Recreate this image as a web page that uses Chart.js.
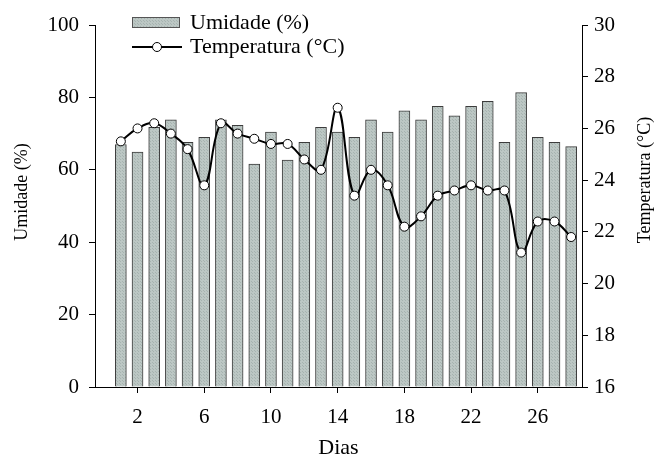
<!DOCTYPE html>
<html>
<head>
<meta charset="utf-8">
<script src="https://cdn.jsdelivr.net/npm/chart.js@4/dist/chart.umd.min.js"></script>
<style>
  html, body { margin: 0; padding: 0; background: #fff; }
  #wrap { width: 654px; height: 461px; }
</style>
</head>
<body>
<div id="wrap"><canvas id="c" width="654" height="461"></canvas></div>
<script>
// Daily readings
const dias = [1, 2, 3, 4, 5, 6, 7, 8, 9, 10, 11, 12, 13, 14,
              15, 16, 17, 18, 19, 20, 21, 22, 23, 24, 25, 26, 27, 28];
const umidade = [67.0, 64.9, 71.7, 73.8, 67.6, 69.0, 73.8, 72.3, 61.6, 70.4,
                 62.7, 67.6, 71.7, 70.4, 69.0, 73.8, 70.4, 76.3, 73.8, 77.5,
                 74.9, 77.5, 78.9, 67.6, 81.3, 69.0, 67.6, 66.4];
const temperatura = [25.5, 26.0, 26.2, 25.8, 25.2, 23.8, 26.2, 25.8, 25.6, 25.4,
                     25.4, 24.8, 24.4, 26.8, 23.4, 24.4, 23.8, 22.2, 22.6, 23.4,
                     23.6, 23.8, 23.6, 23.6, 21.2, 22.4, 22.4, 21.8];
const diaTicks = [2, 6, 10, 14, 18, 22, 26];
const umidadeTicks = [0, 20, 40, 60, 80, 100];
const tempTicks = [16, 18, 20, 22, 24, 26, 28, 30];

const FONT = '"Liberation Serif", "Times New Roman", serif';

// Fine dotted fill for the humidity bars
function dotPattern() {
  const t = document.createElement('canvas');
  t.width = 3; t.height = 3;
  const g = t.getContext('2d');
  g.fillStyle = '#bcc7c4';
  g.fillRect(0, 0, 3, 3);
  g.fillStyle = '#a6b3b0';
  g.fillRect(0, 0, 1, 1);
  g.fillRect(2, 2, 1, 1);
  return g.createPattern(t, 'repeat');
}
const barFill = dotPattern();

// Legend drawn inside the upper-left corner of the plot
const innerLegend = {
  id: 'innerLegend',
  afterDraw(chart) {
    const ctx = chart.ctx;
    const ds = chart.data.datasets;
    ctx.save();
    ctx.font = '22px ' + FONT;
    ctx.textBaseline = 'middle';
    ctx.textAlign = 'left';
    // bar swatch
    ctx.fillStyle = barFill;
    ctx.fillRect(132, 17, 48, 11);
    ctx.strokeStyle = '#555';
    ctx.lineWidth = 1;
    ctx.strokeRect(132.5, 17.5, 47, 10);
    ctx.fillStyle = '#000';
    ctx.fillText(ds[0].label, 190, 23);
    // line swatch
    ctx.beginPath();
    ctx.moveTo(132, 47);
    ctx.lineTo(182, 47);
    ctx.lineWidth = 2;
    ctx.strokeStyle = '#000';
    ctx.stroke();
    ctx.beginPath();
    ctx.arc(157, 47, 4.5, 0, Math.PI * 2);
    ctx.fillStyle = '#fff';
    ctx.fill();
    ctx.lineWidth = 1;
    ctx.stroke();
    ctx.fillStyle = '#000';
    ctx.fillText(ds[1].label, 190, 47);
    ctx.restore();
  }
};

// Vertical axis titles, both reading bottom to top
const sideTitles = {
  id: 'sideTitles',
  afterDraw(chart) {
    const ctx = chart.ctx;
    const put = (text, x, y) => {
      ctx.save();
      ctx.translate(x, y);
      ctx.rotate(-Math.PI / 2);
      ctx.font = '18px ' + FONT;
      ctx.fillStyle = '#000';
      ctx.textAlign = 'center';
      ctx.textBaseline = 'middle';
      ctx.fillText(text, 0, 0);
      ctx.restore();
    };
    put('Umidade (%)', 22, 192);
    put('Temperatura (°C)', 645, 180);
  }
};

const axisCommon = {
  border: { display: true, color: '#000', width: 1 },
  grid: { drawOnChartArea: false, drawTicks: true, tickLength: 6, color: '#000', tickWidth: 1, offset: false },
};

new Chart(document.getElementById('c'), {
  data: {
    datasets: [
      {
        type: 'bar',
        label: 'Umidade (%)',
        data: dias.map((d, i) => ({ x: d, y: umidade[i] })),
        yAxisID: 'y',
        backgroundColor: barFill,
        borderColor: '#3c3c3c',
        borderWidth: 1,
        barThickness: 11,
        order: 2
      },
      {
        type: 'line',
        label: 'Temperatura (°C)',
        data: dias.map((d, i) => ({ x: d, y: temperatura[i] })),
        yAxisID: 'y1',
        borderColor: '#000',
        borderWidth: 2,
        tension: 0.4,
        pointRadius: 4.5,
        pointBackgroundColor: '#fff',
        pointBorderColor: '#000',
        pointBorderWidth: 1,
        order: 1
      }
    ]
  },
  options: {
    responsive: false,
    animation: false,
    layout: { padding: { top: 25, left: 0, right: 0, bottom: 0 } },
    plugins: { legend: { display: false }, tooltip: { enabled: false } },
    scales: {
      x: {
        type: 'linear',
        offset: false,
        min: -0.55,
        max: 28.65,
        ...axisCommon,
        afterBuildTicks(s) { s.ticks = diaTicks.map(v => ({ value: v })); },
        afterFit(s) { s.height = 74; },
        ticks: { font: { family: FONT, size: 21 }, color: '#000', padding: 12, maxRotation: 0 },
        title: { display: true, text: 'Dias', font: { family: FONT, size: 22 }, color: '#000', padding: { top: 8, bottom: 0 } }
      },
      y: {
        type: 'linear',
        position: 'left',
        min: 0,
        max: 100,
        ...axisCommon,
        afterBuildTicks(s) { s.ticks = umidadeTicks.map(v => ({ value: v })); },
        afterFit(s) { s.width = 95; },
        ticks: { font: { family: FONT, size: 21 }, color: '#000', padding: 10 }
      },
      y1: {
        type: 'linear',
        position: 'right',
        min: 16,
        max: 30,
        ...axisCommon,
        afterBuildTicks(s) { s.ticks = tempTicks.map(v => ({ value: v })); },
        afterFit(s) { s.width = 72; },
        ticks: { font: { family: FONT, size: 21 }, color: '#000', padding: 6 }
      }
    }
  },
  plugins: [innerLegend, sideTitles]
});
</script>
</body>
</html>
